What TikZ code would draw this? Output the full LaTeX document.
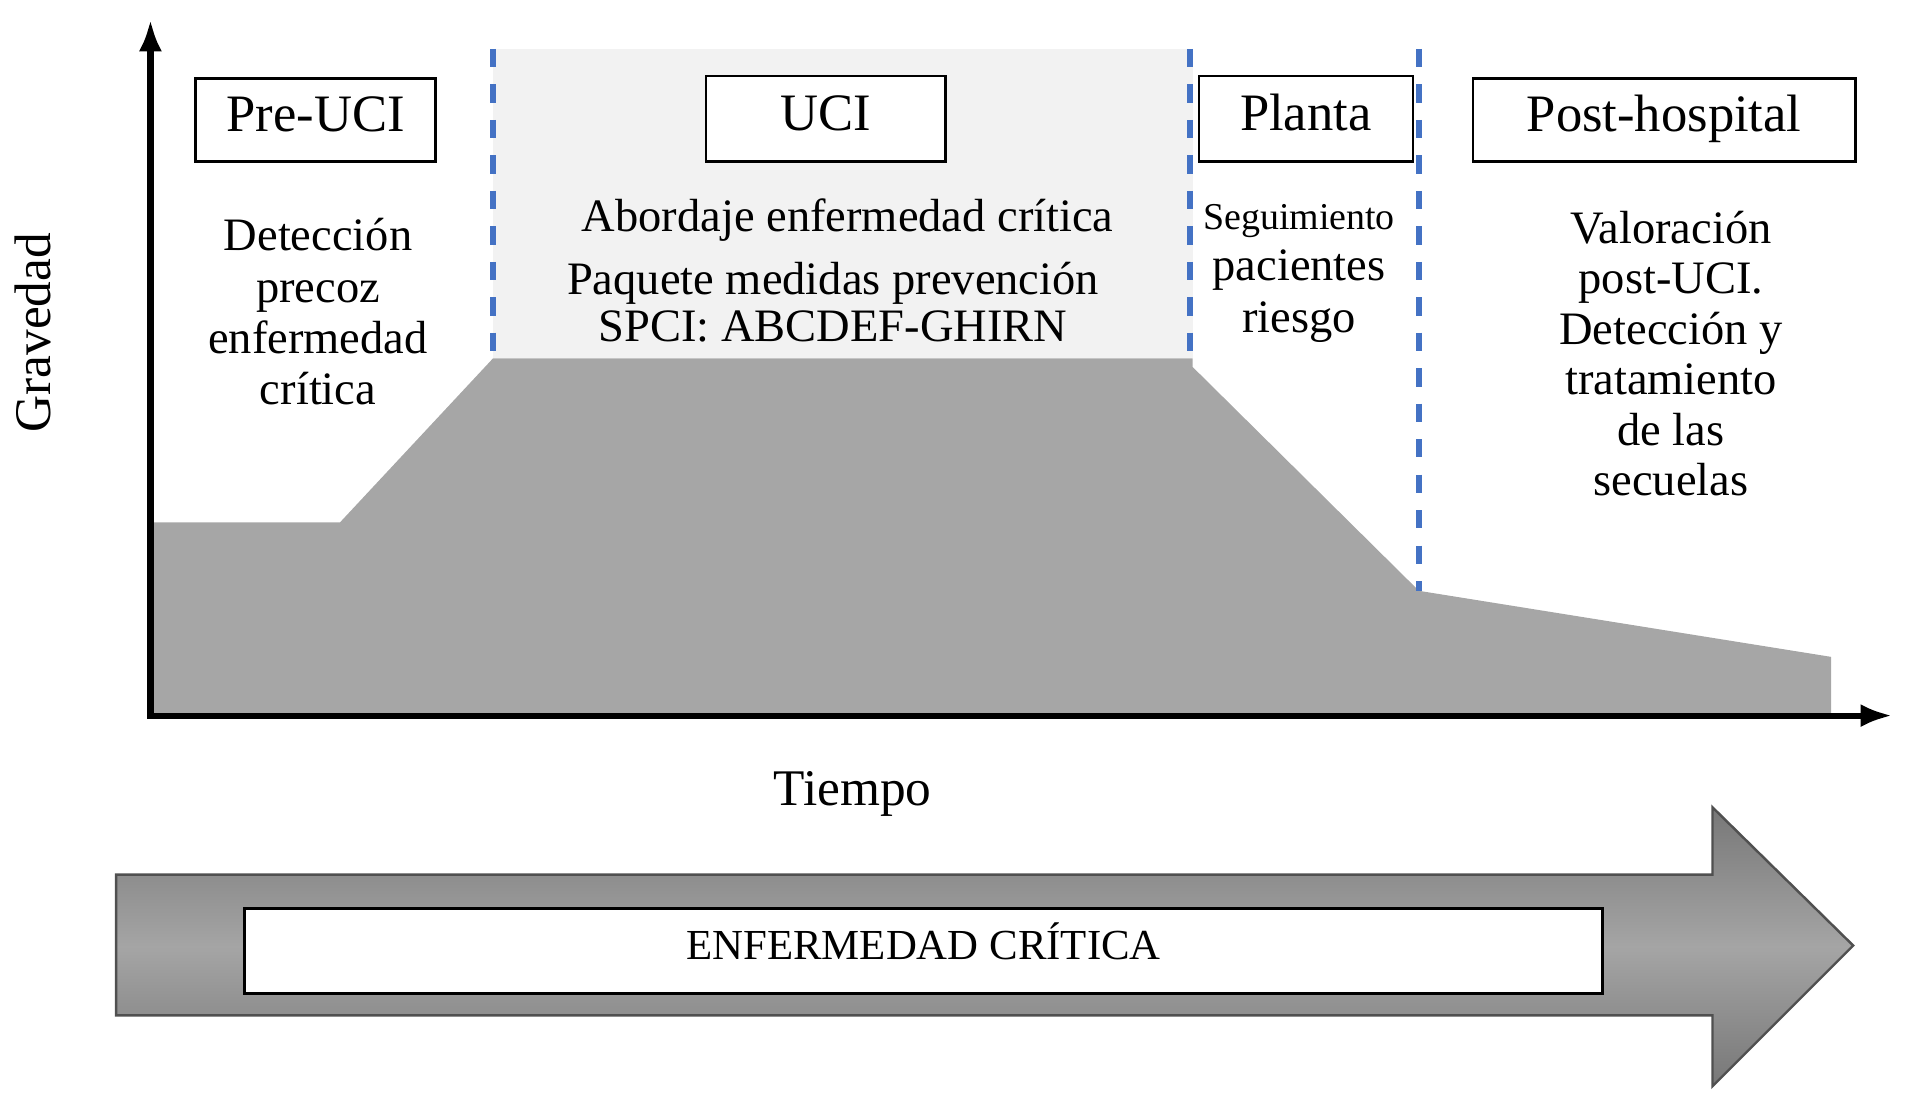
\documentclass[tikz,border=0pt]{standalone}
\usepackage{fontspec}
\setmainfont{Liberation Serif}
\usetikzlibrary{arrows.meta}
\definecolor{fillgray}{HTML}{A6A6A6}
\definecolor{bggray}{HTML}{F2F2F2}
\definecolor{dashblue}{HTML}{4472C4}
\definecolor{arrowgray}{HTML}{959595}
\definecolor{arrowedge}{HTML}{505050}
\begin{document}
\begin{tikzpicture}[x=1pt,y=-1pt,
  titlebox/.style={draw, line width=2pt, fill=white, inner sep=0pt,
    text height=31pt, text depth=12pt,
    font=\fontsize{43}{48}\selectfont},
  desc/.style={align=center, inner sep=0pt, font=\fontsize{38}{42}\selectfont},
  sepline/.style={dashblue, line width=5pt, dash pattern=on 15pt off 14pt},
  axis/.style={line width=5pt, -{Latex[length=26pt,width=19pt]}},
  axislabel/.style={inner sep=0pt, font=\fontsize{42}{48}\selectfont}
]
\useasboundingbox (0,0) rectangle (1568,898);

% light background of UCI zone
\fill[bggray] (403,40) rectangle (975,293);

% severity profile
\fill[fillgray] (125,427) -- (278,427) -- (403,293) -- (975,293) -- (975,300)
  -- (1160,483) -- (1497,537) -- (1497,583) -- (125,583) -- cycle;

% dashed separators
\coordinate (s1t) at (403,40);  \coordinate (s1b) at (403,293);
\coordinate (s2t) at (973,40);  \coordinate (s2b) at (973,300);
\coordinate (s3t) at (1160,40); \coordinate (s3b) at (1160,483);
\draw[sepline] (s1t) -- (s1b);
\draw[sepline] (s2t) -- (s2b);
\draw[sepline] (s3t) -- (s3b);

% axes
\coordinate (ytip) at (123,16);
\coordinate (xtip) at (1547,585);
\coordinate (xstart) at (120.5,585);
\coordinate (ystart) at (123,587.5);
\draw[axis] (ystart) -- (ytip);
\draw[axis] (xstart) -- (xtip);

% phase title boxes
\node[titlebox, minimum width=196pt, minimum height=68pt] (preuci) at (258,98) {Pre-UCI};
\node[titlebox, minimum width=196pt, minimum height=70pt] (uci) at (675,97) {UCI};
\node[titlebox, minimum width=175pt, minimum height=70pt] (planta) at (1067.5,97) {Planta};
\node[titlebox, minimum width=313pt, minimum height=68pt] (post) at (1360.5,98) {Post-hospital};

% descriptions
\node[desc] (dpre) at (260,255) {Detección\\precoz\\enfermedad\\crítica};
\node[desc] (duci1) at (693,180) {Abordaje enfermedad crítica};
\node[desc, font=\fontsize{38}{38}\selectfont] (duci2) at (681,247) {Paquete medidas prevención\\SPCI: ABCDEF-GHIRN};
\node[desc, font=\fontsize{31}{36}\selectfont] (dpl1) at (1062,181) {Seguimiento};
\node[desc] (dpl2) at (1062,242) {pacientes\\riesgo};
\node[desc, font=\fontsize{38}{41.2}\selectfont] (dpost) at (1366,289) {Valoración\\post-UCI.\\Detección y\\tratamiento\\de las\\secuelas};

% axis labels
\node[axislabel, rotate=90] (grav) at (27,272) {Gravedad};
\node[axislabel] (tiempo) at (697,649) {Tiempo};

% big time arrow
\shade[top color=arrowgray!80!black, bottom color=arrowgray!80!black, middle color=arrowgray!85!white,
  draw=arrowedge, line width=2pt]
  (95,715) -- (1400,715) -- (1400,660) -- (1515,773) -- (1400,888) -- (1400,830) -- (95,830) -- cycle;
\node[draw, line width=2.5pt, fill=white, minimum width=1110pt, minimum height=69pt, inner sep=0pt,
  text height=25pt, text depth=12pt,
  font=\fontsize{35}{40}\selectfont] (enf) at (755,777.5) {ENFERMEDAD CRÍTICA};
\end{tikzpicture}
\end{document}
